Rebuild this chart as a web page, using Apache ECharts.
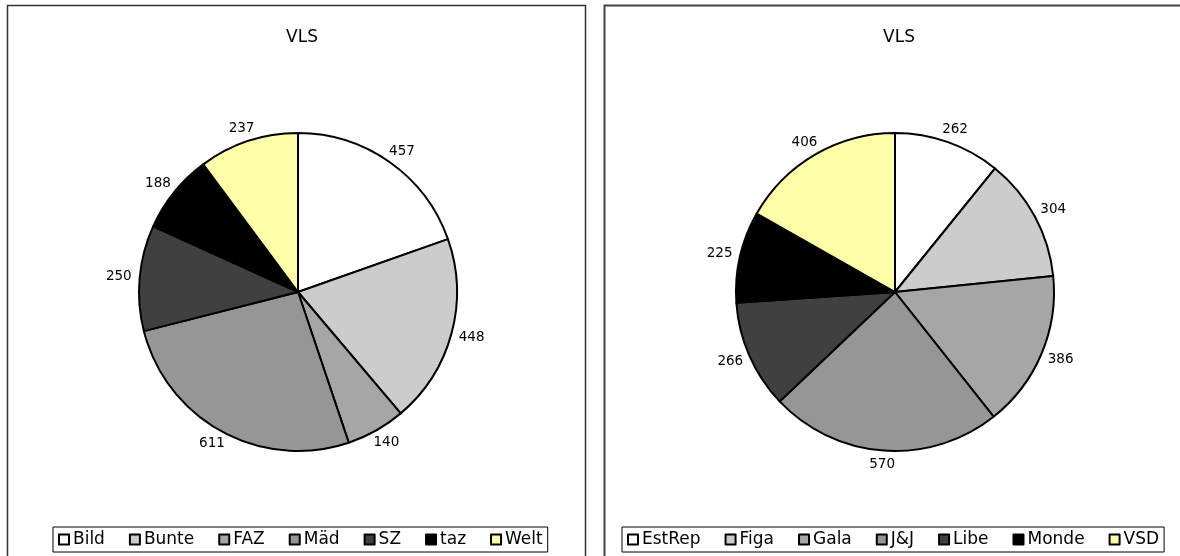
<!DOCTYPE html>
<html>
<head>
<meta charset="utf-8">
<script src="https://cdn.jsdelivr.net/npm/echarts@6/dist/echarts.min.js"></script>
<style>
html,body{margin:0;padding:0;background:#fff;overflow:hidden;}
#chart{width:1180px;height:556px;}
</style>
</head>
<body>
<div id="chart"></div>
<script>
const titleText = 'VLS';
const leftNames = ['Bild', 'Bunte', 'FAZ', 'Mäd', 'SZ', 'taz', 'Welt'];
const leftValues = [457, 448, 140, 611, 250, 188, 237];
const rightNames = ['EstRep', 'Figa', 'Gala', 'J&J', 'Libe', 'Monde', 'VSD'];
const rightValues = [262, 304, 386, 570, 266, 225, 406];
const sliceColors = ['#ffffff', '#cccccc', '#a6a6a6', '#969696', '#404040', '#000000', '#ffffaa'];

const FONT = '"DejaVu Sans", Verdana, sans-serif';
const PIE_CENTERS = [[298, 292], [895, 292]];
const PIE_RADIUS = 159;
const seriesValues = [leftValues, rightValues];

function buildData(names, values) {
  return names.map((n, i) => ({
    name: n,
    value: values[i],
    itemStyle: { color: sliceColors[i] }
  }));
}

function midAngle(values, idx) {
  const total = values.reduce((a, b) => a + b, 0);
  let cum = 0;
  for (let k = 0; k < idx; k++) cum += values[k];
  return (cum + values[idx] / 2) / total * Math.PI * 2;
}

function labelLayout(params) {
  const vals = seriesValues[params.seriesIndex];
  const a = midAngle(vals, params.dataIndex);
  const ux = Math.sin(a), uy = -Math.cos(a);
  const c = PIE_CENTERS[params.seriesIndex];
  const w = params.labelRect.width, h = params.labelRect.height * 0.8;
  const r = PIE_RADIUS + 8;
  return {
    x: c[0] + r * ux + (w / 2) * ux,
    y: c[1] + r * uy + (h / 2) * uy,
    align: 'center',
    verticalAlign: 'middle'
  };
}

function pieSeries(names, values, idx) {
  return {
    type: 'pie',
    center: PIE_CENTERS[idx],
    radius: PIE_RADIUS,
    startAngle: 90,
    clockwise: true,
    avoidLabelOverlap: false,
    animation: false,
    itemStyle: { borderColor: '#000', borderWidth: 2 },
    label: {
      show: true,
      position: 'outside',
      formatter: '{c}',
      color: '#000',
      fontSize: 13.5,
      fontFamily: FONT
    },
    labelLine: { show: false, length: 8, length2: 0 },
    labelLayout: labelLayout,
    emphasis: { disabled: true },
    data: buildData(names, values)
  };
}

function legendFor(names, left) {
  return {
    data: names,
    left: left,
    bottom: 4,
    orient: 'horizontal',
    icon: 'rect',
    itemWidth: 10,
    itemHeight: 10,
    itemGap: 24,
    padding: [4, 5, 4, 5],
    borderColor: '#000',
    borderWidth: 1,
    backgroundColor: '#fff',
    selectedMode: false,
    textStyle: { fontSize: 17, fontFamily: FONT, color: '#000', padding: [0, 0, 0, -1] },
    itemStyle: { borderColor: '#000', borderWidth: 2 }
  };
}

const chart = echarts.init(document.getElementById('chart'), null, { renderer: 'canvas' });
chart.setOption({
  backgroundColor: '#fff',
  animation: false,
  graphic: [
    { type: 'rect', shape: { x: 7.5, y: 5.5, width: 578, height: 600 }, style: { fill: 'none', stroke: '#333', lineWidth: 1.5 }, z: -1 },
    { type: 'rect', shape: { x: 604.5, y: 5.5, width: 578, height: 600 }, style: { fill: 'none', stroke: '#444', lineWidth: 2 }, z: -1 }
  ],
  title: [
    { text: titleText, left: 297, top: 24, textAlign: 'center', textStyle: { fontSize: 17, fontWeight: 'normal', fontFamily: FONT, color: '#000' } },
    { text: titleText, left: 894, top: 24, textAlign: 'center', textStyle: { fontSize: 17, fontWeight: 'normal', fontFamily: FONT, color: '#000' } }
  ],
  legend: [legendFor(leftNames, 53), legendFor(rightNames, 622)],
  series: [pieSeries(leftNames, leftValues, 0), pieSeries(rightNames, rightValues, 1)]
});
</script>
</body>
</html>
